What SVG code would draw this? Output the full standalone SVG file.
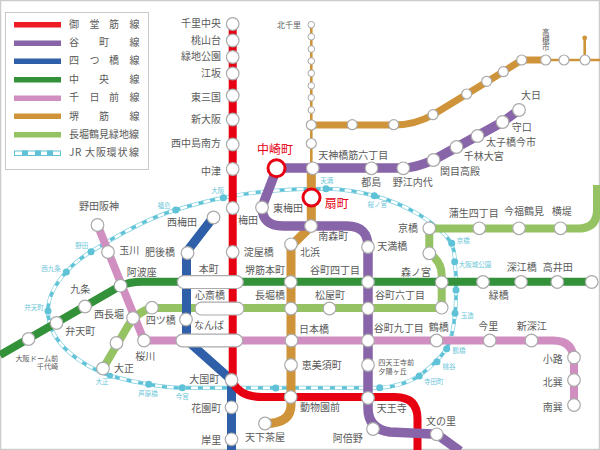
<svg xmlns="http://www.w3.org/2000/svg" width="600" height="450" viewBox="0 0 600 450">
<style>
text{font-family:"Noto Sans CJK JP","Noto Sans",sans-serif;font-size:10px;fill:#5a5a5a}
.e{text-anchor:end}.m{text-anchor:middle}
.f{font-size:7.2px}
.s{font-size:6.5px;fill:#6cc6d9;text-anchor:middle}
.r{font-size:12px;fill:#e60012}
.st{fill:#fff;stroke:#aaa;stroke-width:1.2}
.sm{fill:#fff;stroke:#aaa;stroke-width:1}
.rs{fill:#fff;stroke:#e60012;stroke-width:3}
.jd{fill:#5fc2d6}
.pill{fill:#fff;stroke:#aaa;stroke-width:1.2}
.l{fill:none;stroke-linejoin:round}
.red{stroke:#e60012;stroke-width:8}
.pur{stroke:#8864a8;stroke-width:9.5}
.blu{stroke:#2e5fa8;stroke-width:9}
.grn{stroke:#33913a;stroke-width:8}
.pnk{stroke:#d08fc0;stroke-width:8}
.org{stroke:#cf9339;stroke-width:7}
.lim{stroke:#95c363;stroke-width:8}
.j1{stroke:#7fd0e0;stroke-width:4}
.j2{stroke:#fff;stroke-width:2.6}
.j3{stroke:#5fc2d6;stroke-width:3;stroke-dasharray:5 7}
</style>
<defs>
<path id="loop" d="M232,196C260,191 295,188.5 326,188.7C345,189 360,192 374.3,195.7C405,204 437,222 451.7,243.3C454,250 455,255 454.7,261.7C456,270 456,280 456,290C456,298 456,305 455,313.3C454,325 452,338 446.7,348.7C441,357 431,367 419.3,376C407,383 395,387 379.7,387.7L182,387.7C170,387.7 160,386.5 148.7,384.3C135,382 122,379 110,375.7C85,367 48,345 48,311C48,298 55,284 66.3,272C74,263 82,257 91,251.7C118,235 148,218 175.7,210C192,205 210,200 232,196Z"/>
</defs>
<rect x="0.5" y="0.5" width="599" height="449" fill="#fff" stroke="#ccc" stroke-width="1.5"/>
<g id="legend">
<rect x="5.5" y="12.5" width="143" height="157" fill="#fff" stroke="#c8c8c8"/>
<rect x="14" y="22" width="47" height="5.5" fill="#ee1c25"/>
<rect x="14" y="40.5" width="47" height="5.5" fill="#8864a8"/>
<rect x="14" y="58.5" width="47" height="5.5" fill="#2e5fa8"/>
<rect x="14" y="77" width="47" height="5.5" fill="#33913a"/>
<rect x="14" y="95.5" width="47" height="5.5" fill="#d08fc0"/>
<rect x="14" y="113.5" width="47" height="5.5" fill="#cf9339"/>
<rect x="14" y="132" width="47" height="5.5" fill="#95c363"/>
<rect x="14" y="150.5" width="47" height="5.5" fill="#5fc2d6"/>
<rect x="15" y="151.5" width="45" height="3.5" fill="#fff"/>
<path d="M22,153.2H28M35,153.2H41M47,153.2H53" stroke="#5fc2d6" stroke-width="5.5" fill="none"/>
<text x="69 89.5 109 129.5" y="27.5">御堂筋線</text>
<text x="69 99 129.5" y="46">谷町線</text>
<text x="69 89.5 109 129.5" y="64">四つ橋線</text>
<text x="69 99 129.5" y="83">中央線</text>
<text x="69 89.5 109 129.5" y="101">千日前線</text>
<text x="69 99 129.5" y="119.5">堺筋線</text>
<text x="69 79 89 99 109 119 129" y="137.5">長堀鶴見緑地線</text>
<text x="69 75 81 85 96 106.5 117.5 129" y="156">JR 大阪環状線</text>
</g>
<g id="connectors">
<g id="jr-loop" class="l">
<use href="#loop" class="j1"/><use href="#loop" class="j2"/><use href="#loop" class="j3"/>
</g>
<path id="nagahori" class="l lim" d="M103,368.5L125,331Q135,312 152,308H441.7V282M441.7,282V275Q441.7,262 429.3,253V228.5H578Q597,228.5 597,210V185"/>
<path id="chuo" class="l grn" d="M0,355L120.5,285.7Q130,281.7 142,281.7H592"/>
<path id="sennichimae" class="l pnk" d="M97.5,225L144,340.5H553Q574,340.5 574,362V405"/>
<path id="yotsubashi" class="l blu" d="M213.5,217L186.5,252V340L231.5,380V450"/>
<path id="sakaisuji-thin" class="l" stroke="#cf9339" stroke-width="2.6" d="M311.3,24.7V168M584.7,38V60M546,60H600"/>
<circle id="kita-senri-branch-end" cx="584.7" cy="38" r="2.4" fill="#cf9339"/>
<path id="sakaisuji" class="l org" d="M311.3,125H393.7Q415,125 433,114.7L503.3,71.7L521.7,60H546"/>
<path id="sakaisuji-main" class="l" stroke="#cf9339" stroke-width="9" d="M311.3,168V226L291,246V405Q291,423.5 265,423.5"/>
<path id="midosuji" class="l red" d="M232.7,24V382Q240,397 262,397H395Q417.5,397 417.5,419V450"/>
<path id="tanimachi" class="l pur" d="M519,110L502.5,122L433.5,160Q415,168 403,168H277L262,207Q262,226 283,226H347Q368,226 368,247V408Q368,429 390,432L437,434.3L460,451"/>
</g>
<g id="pills">
<rect x="177.3" y="275.7" width="66" height="12.8" rx="6.4" class="pill"/>
<rect x="195" y="302.2" width="49" height="12.8" rx="6.4" class="pill"/>
<rect x="176" y="334.1" width="66.7" height="12.8" rx="6.4" class="pill"/>
</g>
<g id="s-senri-chuo"><circle cx="232.7" cy="24" r="6.3" class="st"/><text x="221" y="27" class="e">千里中央</text></g>
<g id="s-momoyamadai"><circle cx="232.7" cy="40.5" r="6.3" class="st"/><text x="221" y="44" class="e">桃山台</text></g>
<g id="s-ryokuchi"><circle cx="232.7" cy="57" r="6.3" class="st"/><text x="221" y="60" class="e">緑地公園</text></g>
<g id="s-esaka"><circle cx="232.7" cy="73.5" r="6.3" class="st"/><text x="221" y="77" class="e">江坂</text></g>
<g id="s-higashimikuni"><circle cx="232.7" cy="95.5" r="6.3" class="st"/><text x="221" y="100.5" class="e">東三国</text></g>
<g id="s-shinosaka"><circle cx="232.7" cy="119.5" r="6.3" class="st"/><text x="221" y="123" class="e">新大阪</text></g>
<g id="s-nishinakajima"><circle cx="232.7" cy="144.5" r="6.3" class="st"/><text x="221" y="147" class="e">西中島南方</text></g>
<g id="s-nakatsu"><circle cx="232.7" cy="169" r="6.3" class="st"/><text x="221" y="175" class="e">中津</text></g>
<g id="s-umeda"><circle cx="232.7" cy="208" r="6.3" class="st"/><text x="238" y="223.5">梅田</text></g>
<g id="s-nishiumeda"><circle cx="213.5" cy="217.5" r="6.3" class="st"/><text x="197" y="225.5" class="e">西梅田</text></g>
<g id="s-higashiumeda"><circle cx="262" cy="207.5" r="6.3" class="st"/><text x="273" y="212">東梅田</text></g>
<g id="s-nakazakicho"><circle cx="276.5" cy="168.3" r="8.5" class="rs"/><text x="257" y="153.5" class="r">中崎町</text></g>
<g id="s-ogimachi"><circle cx="311.5" cy="197.5" r="8.5" class="rs"/><text x="324.7" y="207.5" class="r">扇町</text></g>
<g id="s-tenroku"><circle cx="312.7" cy="168.3" r="6.3" class="st"/><text x="318.3" y="158.5">天神橋筋六丁目</text></g>
<g id="s-miyakojima"><circle cx="371.5" cy="168.3" r="6.3" class="st"/><text x="371.3" y="186" class="m">都島</text></g>
<g id="s-noe"><circle cx="403.3" cy="168.3" r="6.3" class="st"/><text x="392.7" y="186">野江内代</text></g>
<g id="s-sekime"><circle cx="433.5" cy="160" r="6.3" class="st"/><text x="440" y="175">関目高殿</text></g>
<g id="s-senbayashi"><circle cx="456.5" cy="147" r="6.3" class="st"/><text x="463.7" y="160">千林大宮</text></g>
<g id="s-taishibashi"><circle cx="477.5" cy="136" r="6.3" class="st"/><text x="486" y="146">太子橋今市</text></g>
<g id="s-moriguchi"><circle cx="502.5" cy="122" r="6.3" class="st"/><text x="511.7" y="131">守口</text></g>
<g id="s-dainichi"><circle cx="519" cy="110" r="6.3" class="st"/><text x="521" y="99">大日</text></g>
<g id="s-kitasenri"><circle cx="311.3" cy="24.7" r="3.3" class="sm"/><text x="277" y="27.5" style="font-size:8px">北千里</text></g>
<g id="s-h1"><circle cx="311.3" cy="36.7" r="3.3" class="sm"/></g>
<g id="s-h2"><circle cx="311.3" cy="49" r="3.3" class="sm"/></g>
<g id="s-h3"><circle cx="311.3" cy="61" r="3.3" class="sm"/></g>
<g id="s-h4"><circle cx="311.3" cy="73.3" r="3.3" class="sm"/></g>
<g id="s-h5"><circle cx="311.3" cy="85.7" r="3.3" class="sm"/></g>
<g id="s-h6"><circle cx="311.3" cy="97.7" r="3.3" class="sm"/></g>
<g id="s-h7"><circle cx="311.3" cy="110" r="3.3" class="sm"/></g>
<g id="s-awaji"><circle cx="311.3" cy="125" r="5" class="st"/></g>
<g id="s-tenjin"><circle cx="311.3" cy="143.5" r="5" class="st"/></g>
<g id="s-k1"><circle cx="352.3" cy="124.7" r="5" class="st"/></g>
<g id="s-k2"><circle cx="393.7" cy="124.7" r="5" class="st"/></g>
<g id="s-k3"><circle cx="433" cy="114.7" r="5" class="st"/></g>
<g id="s-k4"><circle cx="466.7" cy="94" r="5" class="st"/></g>
<g id="s-k5"><circle cx="486.7" cy="81.3" r="5" class="st"/></g>
<g id="s-k6"><circle cx="503.3" cy="71.7" r="5" class="st"/></g>
<g id="s-k7"><circle cx="521.7" cy="60" r="5" class="st"/></g>
<g id="s-takatsuki"><circle cx="545.7" cy="60" r="5" class="st"/><text x="542 542 542" y="35 42.5 50" style="font-size:7.5px">高槻市</text></g>
<g id="s-k8"><circle cx="564" cy="60" r="5" class="st"/></g>
<g id="s-k9"><circle cx="585" cy="60" r="5" class="st"/></g>
<g id="s-minamimorimachi"><circle cx="311" cy="226" r="6.3" class="st"/><text x="318.3" y="240">南森町</text></g>
<g id="s-temmabashi"><circle cx="368" cy="247" r="6.3" class="st"/><text x="377.3" y="250">天満橋</text></g>
<g id="s-kitahama"><circle cx="291" cy="244.3" r="6.3" class="st"/><text x="300" y="256">北浜</text></g>
<g id="s-tanimachi4"><circle cx="368" cy="282" r="6.3" class="st"/><text x="310" y="274">谷町四丁目</text></g>
<g id="s-tanimachi6"><circle cx="368" cy="308.5" r="6.3" class="st"/><text x="375" y="299">谷町六丁目</text></g>
<g id="s-tanimachi9"><circle cx="368" cy="340.5" r="6.3" class="st"/><text x="373.7" y="332">谷町九丁目</text></g>
<g id="s-shitennoji"><circle cx="368" cy="365" r="6.3" class="st"/><text x="378.3" y="365" class="f">四天王寺前</text><text x="378.3" y="373.7" class="f">夕陽ヶ丘</text></g>
<g id="s-tennoji"><circle cx="368" cy="398" r="6.3" class="st"/><text x="376.7" y="412">天王寺</text></g>
<g id="s-abeno"><circle cx="373" cy="429" r="6.3" class="st"/><text x="362.7" y="442" class="e">阿倍野</text></g>
<g id="s-fuminosato"><circle cx="436.7" cy="434.3" r="6.3" class="st"/><text x="426" y="424.5">文の里</text></g>
<g id="s-dobutsuen"><circle cx="290.7" cy="397" r="6.3" class="st"/><text x="300" y="411">動物園前</text></g>
<g id="s-tengachaya"><circle cx="265" cy="423.5" r="6.3" class="st"/><text x="245" y="441">天下茶屋</text></g>
<g id="s-ebisucho"><circle cx="291" cy="365" r="6.3" class="st"/><text x="301.7" y="368.5">恵美須町</text></g>
<g id="s-nipponbashi"><circle cx="291.5" cy="340.5" r="6.3" class="st"/><text x="299" y="333">日本橋</text></g>
<g id="s-nagahoribashi"><circle cx="291" cy="308.5" r="6.3" class="st"/><text x="255" y="299">長堀橋</text></g>
<g id="s-sakaisuji-hommachi"><circle cx="290.7" cy="282" r="6.3" class="st"/><text x="245" y="274">堺筋本町</text></g>
<g id="s-yodoyabashi"><circle cx="232.7" cy="252" r="6.3" class="st"/><text x="243.7" y="256">淀屋橋</text></g>
<g id="s-higobashi"><circle cx="187.5" cy="253" r="6.3" class="st"/><text x="175" y="256" class="e">肥後橋</text></g>
<g id="s-yotsubashi"><circle cx="186" cy="319.5" r="6.3" class="st"/><text x="145.7" y="323.5">四ツ橋</text></g>
<g id="s-hommachi"><text x="208.7" y="272.5" class="m">本町</text></g>
<g id="s-shinsaibashi"><text x="210" y="299" class="m">心斎橋</text></g>
<g id="s-namba"><text x="209" y="329" class="m">なんば</text></g>
<g id="s-daikokucho"><circle cx="231.5" cy="380" r="6.3" class="st"/><text x="219.3" y="383" class="e">大国町</text></g>
<g id="s-hanazonocho"><circle cx="231.5" cy="407.3" r="6.3" class="st"/><text x="221.3" y="412" class="e">花園町</text></g>
<g id="s-kishinosato"><circle cx="231.5" cy="439.3" r="6.3" class="st"/><text x="221.3" y="443.5" class="e">岸里</text></g>
<g id="s-nodahanshin"><circle cx="97.5" cy="225" r="6.3" class="st"/><text x="99" y="210" class="m">野田阪神</text></g>
<g id="s-tamagawa"><circle cx="108" cy="252" r="6.3" class="st"/><text x="119.3" y="253.5">玉川</text></g>
<g id="s-awaza"><circle cx="120.5" cy="285.7" r="6.3" class="st"/><text x="126.7" y="276">阿波座</text></g>
<g id="s-nishinagahori"><circle cx="133" cy="318" r="6.3" class="st"/><text x="94" y="318">西長堀</text></g>
<g id="s-sakuragawa"><circle cx="144" cy="340.5" r="6.3" class="st"/><text x="145.3" y="360" class="m">桜川</text></g>
<g id="s-nishiohashi"><circle cx="152" cy="307.7" r="6.3" class="st"/></g>
<g id="s-dome-mid"><circle cx="116.5" cy="343" r="6.3" class="st"/></g>
<g id="s-taisho"><circle cx="103" cy="368.5" r="6.3" class="st"/><text x="114" y="372">大正</text></g>
<g id="s-kujo"><circle cx="85" cy="306.5" r="6.3" class="st"/><text x="80.3" y="293" class="m">九条</text></g>
<g id="s-bentencho"><circle cx="56.5" cy="323" r="6.3" class="st"/><text x="65.3" y="334.5">弁天町</text></g>
<g id="s-dome"><circle cx="28.5" cy="339" r="6.3" class="st"/><text x="58.3" y="360.5" class="e f">大阪ドーム前</text><text x="58.3" y="369" class="e f">千代崎</text></g>
<g id="s-kyobashi"><circle cx="429.3" cy="228.3" r="6.3" class="st"/><text x="418" y="231.5" class="e">京橋</text></g>
<g id="s-osakabusiness"><circle cx="429.3" cy="253.3" r="6.3" class="st"/></g>
<g id="s-morinomiya"><circle cx="441.7" cy="282.3" r="6.3" class="st"/><text x="401" y="276">森ノ宮</text></g>
<g id="s-tamatsukuri"><circle cx="441.7" cy="307.7" r="6.3" class="st"/></g>
<g id="s-matsuyamachi"><circle cx="329.5" cy="308.5" r="6.3" class="st"/><text x="315" y="299">松屋町</text></g>
<g id="s-gamo"><circle cx="479.3" cy="228.3" r="6.3" class="st"/><text x="448.7" y="217">蒲生四丁目</text></g>
<g id="s-imafuku"><circle cx="519" cy="228.3" r="6.3" class="st"/><text x="504" y="215">今福鶴見</text></g>
<g id="s-yokozutsumi"><circle cx="560.5" cy="228.3" r="6.3" class="st"/><text x="551.7" y="215">横堤</text></g>
<g id="s-midoribashi"><circle cx="483" cy="282" r="6.3" class="st"/><text x="488.7" y="298.5">緑橋</text></g>
<g id="s-fukaebashi"><circle cx="521" cy="282" r="6.3" class="st"/><text x="506.7" y="271">深江橋</text></g>
<g id="s-takaida"><circle cx="557.3" cy="282" r="6.3" class="st"/><text x="542.7" y="271">高井田</text></g>
<g id="s-nagata"><circle cx="591.7" cy="282" r="6.3" class="st"/></g>
<g id="s-tsuruhashi"><circle cx="436.5" cy="340.5" r="6.3" class="st"/><text x="428.7" y="331">鶴橋</text></g>
<g id="s-imazato"><circle cx="489.7" cy="340.5" r="6.3" class="st"/><text x="478.3" y="330">今里</text></g>
<g id="s-shinfukae"><circle cx="531.5" cy="340.5" r="6.3" class="st"/><text x="516.7" y="330">新深江</text></g>
<g id="s-shoji"><circle cx="574" cy="357.5" r="6.3" class="st"/><text x="562.7" y="362.5" class="e">小路</text></g>
<g id="s-kitatatsumi"><circle cx="574" cy="380" r="6.3" class="st"/><text x="562.7" y="386" class="e">北巽</text></g>
<g id="s-minamitatsumi"><circle cx="574" cy="405" r="6.3" class="st"/><text x="562.7" y="411" class="e">南巽</text></g>
<g id="jr-stations">
<g id="j-osaka"><circle cx="223.3" cy="197.7" r="3.5" class="jd"/><text x="217.7" y="192.5" class="s">大阪</text></g>
<g id="j-fukushima"><circle cx="175.7" cy="210" r="3.5" class="jd"/><text x="164" y="207.5" class="s">福島</text></g>
<g id="j-noda"><circle cx="91" cy="251.7" r="3.5" class="jd"/><text x="81.7" y="248" class="s">野田</text></g>
<g id="j-nishikujo"><circle cx="66.3" cy="272" r="3.5" class="jd"/><text x="51" y="271" class="s">西九条</text></g>
<g id="j-bentencho"><circle cx="48" cy="311" r="3.5" class="jd"/><text x="34" y="310" class="s">弁天町</text></g>
<g id="j-taisho"><circle cx="110" cy="375.7" r="3" class="jd"/><text x="102.3" y="384" class="s">大正</text></g>
<g id="j-ashiharabashi"><circle cx="148.7" cy="384.3" r="3.5" class="jd"/><text x="148" y="395.5" class="s">芦原橋</text></g>
<g id="j-imamiya"><circle cx="182.3" cy="387.7" r="3.5" class="jd"/><text x="182.3" y="398.5" class="s">今宮</text></g>
<g id="j-shinimamiya"><circle cx="275.7" cy="388" r="3.5" class="jd"/></g>
<g id="j-tennoji"><circle cx="379.7" cy="387.7" r="3.5" class="jd"/></g>
<g id="j-teradacho"><circle cx="419.3" cy="376" r="3.5" class="jd"/><text x="433.7" y="383.5" class="s">寺田町</text></g>
<g id="j-momodani"><circle cx="437" cy="361.7" r="3.5" class="jd"/><text x="449" y="368.5" class="s">桃谷</text></g>
<g id="j-tsuruhashi"><circle cx="446.7" cy="348.7" r="3.5" class="jd"/><text x="459" y="352.5" class="s">鶴橋</text></g>
<g id="j-tamatsukuri"><circle cx="455" cy="313.3" r="3.5" class="jd"/><text x="467.3" y="317.5" class="s">玉造</text></g>
<g id="j-morinomiya"><circle cx="456" cy="290" r="3.5" class="jd"/></g>
<g id="j-osakajokoen"><circle cx="454.7" cy="261.7" r="3.5" class="jd"/><text x="475" y="266.5" class="s">大阪城公園</text></g>
<g id="j-kyobashi"><circle cx="451.7" cy="243.3" r="3.5" class="jd"/><text x="463.3" y="243" class="s">京橋</text></g>
<g id="j-sakuranomiya"><circle cx="374.3" cy="195.7" r="3.5" class="jd"/><text x="377.3" y="207" class="s">桜ノ宮</text></g>
<g id="j-temma"><circle cx="326" cy="188.7" r="3.5" class="jd"/><text x="326.7" y="182.5" class="s">天満</text></g>
</g>
</svg>
